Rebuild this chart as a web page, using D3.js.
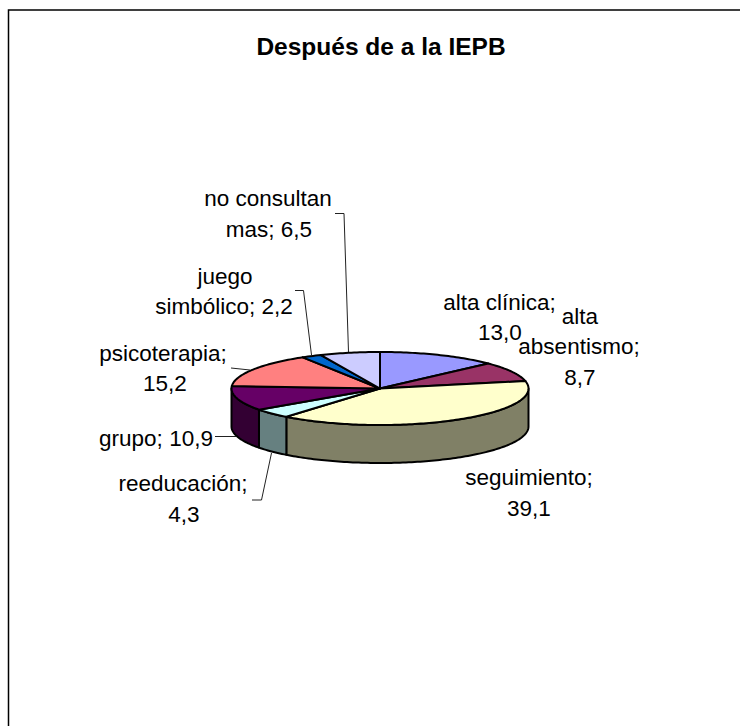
<!DOCTYPE html>
<html>
<head>
<meta charset="utf-8">
<script src="https://cdnjs.cloudflare.com/ajax/libs/d3/7.8.5/d3.min.js"></script>
<style>
html, body { margin: 0; padding: 0; background: #fff; }
svg { display: block; }
text { font-family: "Liberation Sans", Arial, sans-serif; fill: #000; }
</style>
</head>
<body>
<svg id="chart" width="740" height="726"></svg>
<script>
var categories = ["alta clínica", "alta absentismo", "seguimiento", "reeducación", "grupo", "psicoterapia", "juego simbólico", "no consultan mas"];
var values = [13.0, 8.7, 39.1, 4.3, 10.9, 15.2, 2.2, 6.5];
var valueLabels = ["13,0", "8,7", "39,1", "4,3", "10,9", "15,2", "2,2", "6,5"];
var topColors = ["#9999ff", "#993366", "#ffffcc", "#ccffff", "#660066", "#ff8080", "#0066cc", "#ccccff"];
var sideColors = ["#4d4d80", "#4d1a33", "#808066", "#668080", "#330033", "#804040", "#003366", "#666680"];

var labelLines = [
    [["alta clínica;", 499.5, 309.5], ["13,0", 500, 340]],
    [["alta", 580, 324], ["absentismo;", 579, 354], ["8,7", 580, 385]],
    [["seguimiento;", 529, 485], ["39,1", 529, 516]],
    [["reeducación;", 183, 491], ["4,3", 184, 522]],
    [["grupo; 10,9", 156, 446]],
    [["psicoterapia;", 163, 361], ["15,2", 165, 391]],
    [["juego", 225, 284], ["simbólico; 2,2", 224, 314]],
    [["no consultan", 268, 206], ["mas; 6,5", 269, 236.5]]
];
var leaders = [
    [[335, 213.5], [344, 213.5], [348.5, 352]],
    [[295, 290.5], [303.5, 290.5], [311.5, 355]],
    [[231, 368], [250, 370]],
    [[215, 436.5], [236, 436.5]],
    [[252, 500], [261.5, 500], [271.5, 453]]
];

var svg = d3.select("#chart");
var cx = 380, cy = 388.5, rx = 148.5, ry = 36.5, depth = 38;

// frame
svg.append("path")
    .attr("d", "M8.5,726V10H740")
    .attr("fill", "none")
    .attr("stroke", "#000")
    .attr("stroke-width", 1.5);

svg.append("text")
    .attr("x", 381)
    .attr("y", 55)
    .attr("text-anchor", "middle")
    .attr("font-size", 24.5)
    .attr("font-weight", "bold")
    .text("Después de a la IEPB");

var pie = d3.pie().sort(null).value(function(d) { return d; });
var arcs = pie(values);

function point(a, dy) {
    return [cx + rx * Math.sin(a), cy - ry * Math.cos(a) + (dy || 0)];
}

function sample(a0, a1, dy) {
    var n = Math.max(2, Math.ceil(Math.abs(a1 - a0) / 0.02));
    return d3.range(n + 1).map(function(i) { return point(a0 + (a1 - a0) * i / n, dy); });
}

var line = d3.line();

// sides, only the front half (90deg to 270deg) can be seen
var sides = svg.append("g");
arcs.forEach(function(d, i) {
    var a0 = Math.max(d.startAngle, Math.PI / 2);
    var a1 = Math.min(d.endAngle, Math.PI * 1.5);
    if (a1 <= a0) return;
    var pts = sample(a0, a1, 0).concat(sample(a1, a0, depth));
    sides.append("path")
        .attr("d", line(pts) + "Z")
        .attr("fill", sideColors[i])
        .attr("stroke", "#000")
        .attr("stroke-width", 2)
        .attr("stroke-linejoin", "round");
});

// top faces
var tops = svg.append("g");
arcs.forEach(function(d, i) {
    var pts = [[cx, cy]].concat(sample(d.startAngle, d.endAngle, 0));
    tops.append("path")
        .attr("d", line(pts) + "Z")
        .attr("fill", topColors[i])
        .attr("stroke", "#000")
        .attr("stroke-width", 2)
        .attr("stroke-linejoin", "round");
});

// leader lines
leaders.forEach(function(d) {
    svg.append("path")
        .attr("d", line(d))
        .attr("fill", "none")
        .attr("stroke", "#222")
        .attr("stroke-width", 1);
});

// labels
labelLines.forEach(function(group) {
    group.forEach(function(d) {
        svg.append("text")
            .attr("x", d[1])
            .attr("y", d[2])
            .attr("text-anchor", "middle")
            .attr("font-size", 22.5)
            .text(d[0]);
    });
});
</script>
</body>
</html>
